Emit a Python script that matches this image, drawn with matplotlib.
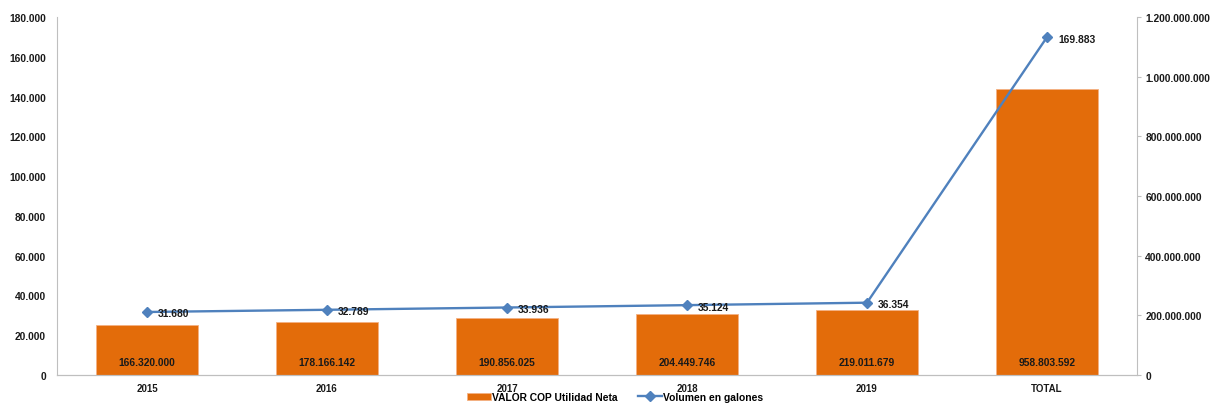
import matplotlib
matplotlib.use("Agg")
import matplotlib.pyplot as plt
from matplotlib.ticker import FuncFormatter, FixedLocator
from matplotlib import font_manager

categories = ["2015", "2016", "2017", "2018", "2019", "TOTAL"]
valor_cop = [166320000, 178166142, 190856025, 204449746, 219011679, 958803592]
volumen = [31680, 32789, 33936, 35124, 36354, 169883]

names = {f.name for f in font_manager.fontManager.ttflist}
fam = [n for n in ["Liberation Sans", "DejaVu Sans"] if n in names]
plt.rcParams["font.family"] = fam
plt.rcParams["font.weight"] = "bold"


def dots(v, pos=None):
    return f"{int(round(v)):,}".replace(",", ".")


W, H = 1214, 406
fig = plt.figure(figsize=(W / 100, H / 100), dpi=100)
ax_left = fig.add_axes([57 / W, 30 / H, 1080 / W, 358 / H])
ax_right = ax_left.twinx()

bar_color = "#E36C0A"
line_color = "#4F81BD"
txt = "#1a1a1a"
spine_c = "#BFBFBF"
fs = 7.4

x = list(range(len(categories)))

# bars on the right-hand (COP) axis
ax_right.bar(x, valor_cop, width=0.57, color=bar_color, edgecolor="#F4B183",
             linewidth=0.6, zorder=1, label="VALOR COP Utilidad Neta")
ax_right.set_ylim(0, 1200000000)
ax_right.yaxis.set_major_locator(FixedLocator(range(0, 1200000001, 200000000)))
ax_right.yaxis.set_major_formatter(FuncFormatter(dots))
for xi, v in zip(x, valor_cop):
    ax_right.text(xi, 44000000, dots(v), ha="center", va="center",
                  fontsize=fs, fontweight="bold", color=txt, zorder=5)

# line on the left-hand (gallons) axis, drawn above the bars
ax_left.set_zorder(ax_right.get_zorder() + 1)
ax_left.patch.set_visible(False)
ax_left.plot(x, volumen, color=line_color, linewidth=1.7, marker="D",
             markersize=5.5, zorder=3, label="Volumen en galones")
ax_left.set_ylim(0, 180000)
ax_left.yaxis.set_major_locator(FixedLocator(range(0, 180001, 20000)))
ax_left.yaxis.set_major_formatter(FuncFormatter(dots))
for xi, v in zip(x, volumen):
    ax_left.annotate(dots(v), (xi, v), xytext=(8, -1), textcoords="offset points",
                     ha="left", va="center", fontsize=fs, fontweight="bold",
                     color=txt, zorder=6)

ax_left.set_xlim(-0.5, len(categories) - 0.5)
ax_left.set_xticks(x)
ax_left.set_xticklabels(categories)

for a in (ax_left, ax_right):
    for s in a.spines.values():
        s.set_color(spine_c)
    a.spines["top"].set_visible(False)
    a.tick_params(labelsize=fs, colors=txt)

ax_left.spines["right"].set_visible(False)
ax_right.spines["left"].set_visible(False)
ax_left.tick_params(axis="y", length=0, pad=8)
ax_left.tick_params(axis="x", length=0, pad=6, labelsize=7)
ax_right.tick_params(axis="y", length=3, color=spine_c, pad=3)
for lbl in ax_left.get_yticklabels() + ax_right.get_yticklabels() + ax_left.get_xticklabels():
    lbl.set_fontweight("bold")

h1, l1 = ax_right.get_legend_handles_labels()
h2, l2 = ax_left.get_legend_handles_labels()
fig.legend(h1 + h2, l1 + l2, loc="center", bbox_to_anchor=(615 / W, 1 - 398 / H),
           ncol=2, frameon=False, handlelength=2.4,
           handletextpad=0.1, columnspacing=1.9, prop={"weight": "bold", "size": fs})

fig.savefig("out.png", dpi=100)
